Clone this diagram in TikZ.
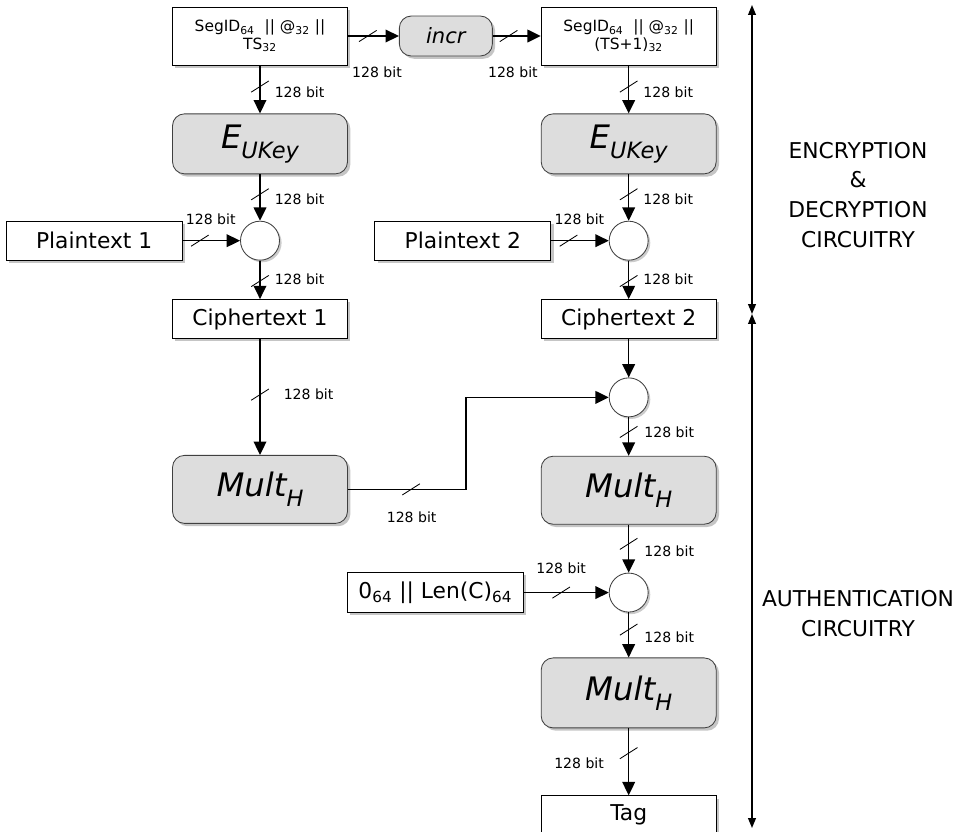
\documentclass[tikz,border=0pt]{standalone}
\usepackage{fontspec}
\setmainfont{DejaVu Sans}
\usepackage{xcolor}
\usetikzlibrary{arrows.meta, positioning, shadows, decorations.markings}
\definecolor{boxgray}{RGB}{221,221,221}
\newcommand{\fsub}[1]{\raisebox{-0.3em}{\fontsize{16}{16}\selectfont\itshape #1}}

\begin{document}
\begin{tikzpicture}[
    node distance=1.2cm,
    box/.style={rectangle, draw=black, line width=0.6pt, fill=white, inner sep=0pt, minimum width=4.375cm, minimum height=0.975cm, text centered, font=\fontsize{15.5}{18}\selectfont, drop shadow={shadow xshift=2pt, shadow yshift=-2pt, fill=black!45}},
    segbox/.style={box, minimum height=1.45cm, align=center, font=\fontsize{11}{12.5}\selectfont},
    func/.style={box, rounded corners=0.3cm, draw=black!75, fill=boxgray, minimum height=1.5cm, font=\fontsize{23}{26}\selectfont\itshape},
    xor/.style={circle, draw=black!75, line width=0.6pt, fill=white, inner sep=0pt, minimum size=0.975cm, drop shadow={shadow xshift=1.5pt, shadow yshift=-1.5pt, fill=black!40}},
    arrow/.style={line width=1.1pt, -{Triangle[length=9.5pt,width=9pt]}},
    bracket/.style={line width=1pt, {Triangle[length=7pt,width=5.5pt]}-{Triangle[length=7pt,width=5.5pt]}},
    bus/.style={postaction={decorate, decoration={markings, mark=at position #1 with {\pgftransformresetnontranslations \draw[-, line width=0.6pt] (-0.22,-0.14) -- (0.22,0.14);}}}},
    lbl/.style={inner sep=0pt, font=\fontsize{10}{12}\selectfont},
    side/.style={align=center, inner sep=0pt, font=\fontsize{15.5}{21.3}\selectfont}
]
    \useasboundingbox (0,0) rectangle (23.9,-20.775);

    % encryption part
    \node (seg1) [segbox] at (6.5,-0.9) {SegID\textsubscript{64}\ \ || @\textsubscript{32} ||\\TS\textsubscript{32}};
    \node (incr) [func, right=1.275cm of seg1, minimum width=2.325cm, minimum height=1cm, font=\fontsize{15}{18}\selectfont\itshape] {incr};
    \node (seg2) [segbox, right=1.2cm of incr] {SegID\textsubscript{64}\ \ || @\textsubscript{32} ||\\(TS+1)\textsubscript{32}};

    \node (enc1) [func, below=1.2cm of seg1] {E\fsub{UKey}};
    \node (enc2) [func, below=1.2cm of seg2] {E\fsub{UKey}};

    \node (x1) [xor, below=1.1625cm of enc1] {};
    \node (x2) [xor, below=1.1625cm of enc2] {};
    \node (pt1) [box, left=1.4375cm of x1, minimum width=4.4cm] {Plaintext 1};
    \node (pt2) [box, left=1.4375cm of x2, minimum width=4.4cm] {Plaintext 2};

    \node (ct1) [box, below=0.9625cm of x1] {Ciphertext 1};
    \node (ct2) [box, below=0.9625cm of x2] {Ciphertext 2};

    % authentication part
    \node (x3) [xor, below=0.9625cm of ct2] {};
    \node (mul1) [func, below=2.9cm of ct1, minimum height=1.7cm] {Mult\fsub{H}};
    \node (mul2) [func, below=0.9625cm of x3, minimum height=1.7cm] {Mult\fsub{H}};
    \node (x4) [xor, below=1.2cm of mul2] {};
    \node (len) [box, left=2.125cm of x4, minimum width=4.4cm, minimum height=1cm] {0\textsubscript{64} || Len(C)\textsubscript{64}};
    \node (mul3) [func, below=1.125cm of x4, minimum height=1.75cm] {Mult\fsub{H}};
    \node (tag) [box, below=1.675cm of mul3] {Tag};

    \draw [arrow, bus=0.39] (seg1.east) -- node[lbl, pos=0.57, below=0.75cm] {128 bit} (incr.west);
    \draw [arrow, bus=0.33] (incr.east) -- node[lbl, pos=0.42, below=0.75cm] {128 bit} (seg2.west);

    \draw [arrow, bus=0.44] (seg1) -- node[lbl, pos=0.56, right=0.35cm] {128 bit} (enc1);
    \draw [arrow, bus=0.44] (seg2) -- node[lbl, pos=0.56, right=0.35cm] {128 bit} (enc2);
    \draw [arrow, bus=0.43] (enc1) -- node[lbl, pos=0.54, right=0.35cm] {128 bit} (x1);
    \draw [arrow, bus=0.43] (enc2) -- node[lbl, pos=0.54, right=0.35cm] {128 bit} (x2);
    \draw [arrow, bus=0.3] (pt1) -- node[lbl, pos=0.49, above=0.375cm] {128 bit} (x1);
    \draw [arrow, bus=0.3] (pt2) -- node[lbl, pos=0.49, above=0.375cm] {128 bit} (x2);
    \draw [arrow, bus=0.53] (x1) -- node[lbl, pos=0.48, right=0.35cm] {128 bit} (ct1);
    \draw [arrow, bus=0.53] (x2) -- node[lbl, pos=0.48, right=0.35cm] {128 bit} (ct2);

    \draw [arrow, bus=0.48] (ct1) -- node[lbl, pos=0.48, right=0.575cm] {128 bit} (mul1);
    \draw [arrow] (ct2) -- (x3);
    \draw [arrow, bus=0.179] (mul1.east) -- node[lbl, pos=0.54, below=0.55cm] {128 bit} ++(2.95,0) |- (x3.west);
    \draw [arrow, bus=0.38] (x3) -- node[lbl, pos=0.4, right=0.375cm] {128 bit} (mul2);
    \draw [arrow, bus=0.4] (mul2) -- node[lbl, pos=0.56, right=0.375cm] {128 bit} (x4);
    \draw [arrow, bus=0.44] (len) -- node[lbl, pos=0.44, above=0.45cm] {128 bit} (x4);
    \draw [arrow, bus=0.38] (x4) -- node[lbl, pos=0.55, right=0.375cm] {128 bit} (mul3);
    \draw [arrow, bus=0.37] (mul3) -- node[lbl, pos=0.52, left=0.6cm] {128 bit} (tag);

    % side brackets
    \coordinate (btop) at (18.8,-0.125);
    \coordinate (bmid) at (18.8,-7.85);
    \coordinate (bbot) at (18.8,-20.7);
    \draw [bracket] (btop) -- (bmid);
    \draw [bracket] (bmid) -- (bbot);

    \node (enctext) [side] at (21.45,-4.875) {ENCRYPTION\\\&\\DECRYPTION\\CIRCUITRY};
    \node (authtext) [side] at (21.45,-15.35) {AUTHENTICATION\\CIRCUITRY};
\end{tikzpicture}
\end{document}
